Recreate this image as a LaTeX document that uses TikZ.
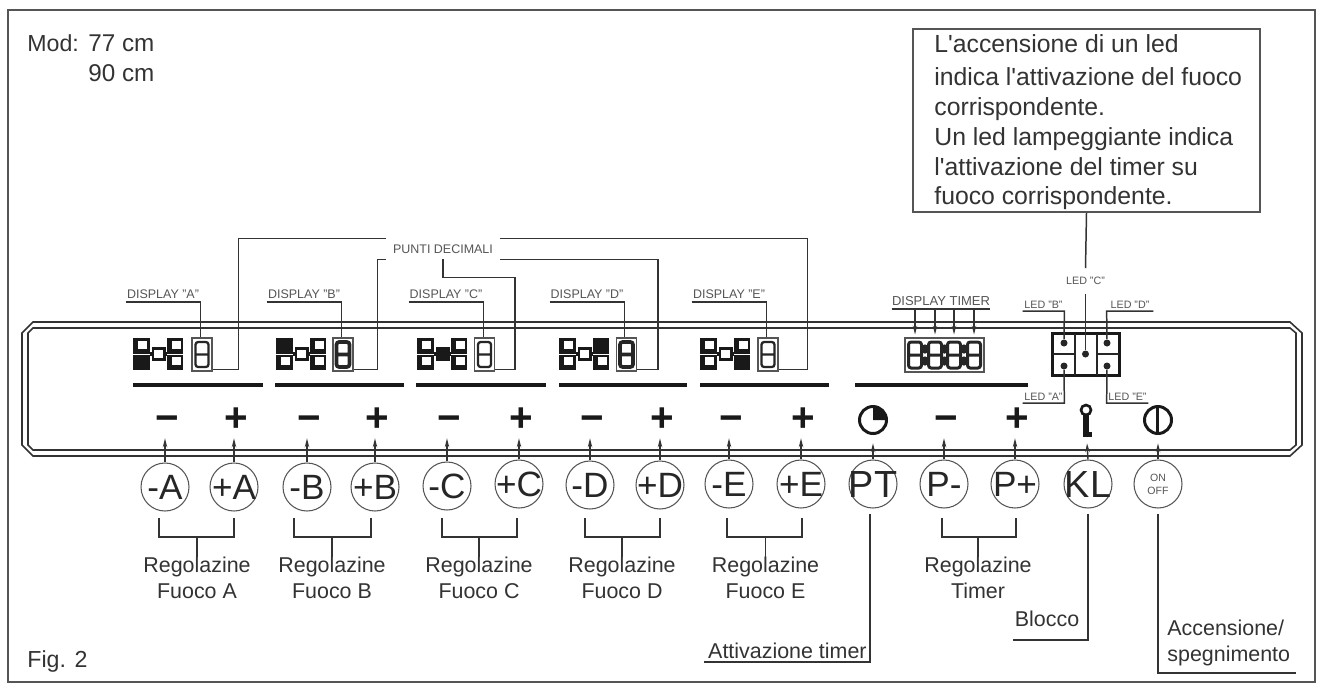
\documentclass[tikz,border=0pt]{standalone}
\usepackage{xcolor}
\usepackage{fontspec}
\setmainfont{Liberation Sans}
\newfontfamily\plainsans{Liberation Sans}
\usetikzlibrary{arrows.meta, positioning, calc}
\definecolor{frameink}{HTML}{555555}
\definecolor{wireink}{HTML}{333333}
\definecolor{textink}{HTML}{333333}
\tikzset{
    wire/.style={wireink, line width=0.85pt},
    tick/.style={wireink, line width=0.8pt, -{Stealth[length=5pt, width=2.5pt]}},
    keycirc/.style={circle, draw=frameink, line width=0.6pt, inner sep=0pt, minimum size=0.96cm},
    capt/.style={inner sep=0pt, text=textink, align=center, font=\fontsize{12.2}{14.8}\selectfont},
    tinylbl/.style={inner sep=0pt, inner ysep=1.5pt, text=frameink, font=\fontsize{7.1}{8}\selectfont},
    ledlbl/.style={inner sep=0pt, inner ysep=1.5pt, text=frameink, font=\fontsize{6.1}{7}\selectfont},
    leddot/.style={circle, fill=black!85, inner sep=0pt, minimum size=0.14cm},
}
\begin{document}
\begin{tikzpicture}[x=0.02cm, y=-0.02cm]
    \useasboundingbox (0,0) rectangle (1318,684);
    \fill[white] (0,0) rectangle (1318,684);
    \draw[frameink, line width=1.2pt] (8,10) rectangle (1315,682);

    \node[capt, anchor=west, font=\fontsize{13.2}{15}\selectfont] (modtxt) at (27,43) {Mod:};
    \node[capt, anchor=west, font=\fontsize{13.8}{17}\selectfont, align=left] (modcm) at (88,58) {77 cm\\90 cm};
    \node[capt, anchor=west, font=\fontsize{13.2}{15}\selectfont] (figtxt) at (27,661) {Fig. 2};

    % panel outline
    \draw[wireink, line width=0.9pt]
        (33,322) -- (1290,322) -- (1302,333) -- (1302,445) -- (1290,456) -- (33,456) -- (22,445) -- (22,333) -- cycle;
    \draw[wireink, line width=0.9pt]
        (33,328) -- (1290,328) -- (1296,333) -- (1296,445) -- (1290,450) -- (33,450) -- (28,445) -- (28,333) -- cycle;

    \node[draw=frameink, line width=0.9pt, minimum width=6.94cm, minimum height=3.66cm, inner sep=0pt] (note) at (1086.5,120.5) {};
    \node[inner sep=0pt, anchor=west, align=left, text=textink, font=\plainsans\fontsize{14.1}{17}\selectfont] (notetxt) at (934,122.5)
        {L'accensione di un led\\[1.5pt] indica l'attivazione del fuoco\\ corrispondente.\\ Un led lampeggiante indica\\ l'attivazione del timer su\\ fuoco corrispondente.};

    \node[inner sep=0pt, minimum width=2.28cm, minimum height=0.4cm, text=frameink, font=\fontsize{7.1}{8}\selectfont] (punti) at (443,249) {PUNTI DECIMALI};

    % displays
    \foreach \nm/\ox/\sx/\lx/\fullc/\sw in {A/133/202/163/2/1.3, B/276/343/304/1/2.1, C/417/484.5/446/5/1.3, D/559/626.5/587/3/2.1, E/700/768/729/4/1.3} {
        \fill[black!90] (\ox,338) rectangle +(17,32);
        \fill[black!90] (\ox+34,338) rectangle +(16,32);
        \fill[black!90] (\ox+19,347) rectangle +(14,14);
        \fill[black!90] (\ox+16,352) rectangle +(19,4);
        \foreach \i/\wx/\wy in {1/5/3, 2/5/19, 3/39/3, 4/39/19, 5/21/12} {
            \ifnum\i=\fullc\else \fill[white] (\ox+\wx,338+\wy) rectangle +(9,8); \fi
        }
        \draw[white, line width=0.3pt] (\ox,354) -- +(17,0) (\ox+34,354) -- +(16,0);
        \node[draw=frameink, line width=0.6pt, minimum width=0.4cm, minimum height=0.66cm, inner sep=0pt] (seg\nm) at (\sx,354.5) {};
        \draw[black!85, line width=\sw pt, rounded corners=1.5pt] (\sx-6.5,342) rectangle (\sx+6.5,367) (\sx-6.5,354.5) -- (\sx+6.5,354.5);
        \node[tinylbl, anchor=south, minimum width=1.48cm] (lbl\nm) at (\lx,302) {DISPLAY "\nm"};
        \draw[wire] (lbl\nm.south west) -- (lbl\nm.south east) -- (lbl\nm.south east |- seg\nm.north);
    }

    \draw[wire] (punti.north west) -| ($(segA.south east)+(26,-2)$) -- ($(segA.south east)+(0,-2)$);
    \draw[wire] (punti.south west) -| ($(segB.south east)+(24,-2)$) -- ($(segB.south east)+(0,-2)$);
    \draw[wire] (punti.south) |- ($(segC.south east)+(20,-94)$) -- ($(segC.south east)+(20,-2)$) -- ($(segC.south east)+(0,-2)$);
    \draw[wire] (punti.south east) -| ($(segD.south east)+(21,-2)$) -- ($(segD.south east)+(0,-2)$);
    \draw[wire] (punti.north east) -| ($(segE.south east)+(29,-2)$) -- ($(segE.south east)+(0,-2)$);

    \foreach \xa/\xb in {133/263, 275/404, 416/546, 559/687, 700/829, 855/1028} {
        \draw[black!90, line width=2.8pt] (\xa,385) -- (\xb,385);
    }

    % timer display
    \node[draw=frameink, line width=0.6pt, minimum width=1.58cm, minimum height=0.68cm, inner sep=0pt] (timerbox) at (944.5,355) {};
    \node[tinylbl, anchor=south, minimum width=1.96cm, font=\fontsize{7.4}{8}\selectfont] (lbltimer) at (941,309) {DISPLAY TIMER};
    \draw[wire] (lbltimer.south west) -- (lbltimer.south east);
    \foreach \dx in {915, 935, 954, 974} {
        \draw[black!85, line width=1.7pt, rounded corners=1.5pt] (\dx-6.5,342) rectangle (\dx+6.5,368) (\dx-6.5,355) -- (\dx+6.5,355);
        \draw[tick] (\dx,0 |- lbltimer.south) -- ($(\dx,0 |- timerbox.north)+(0,-3)$);
    }
    \foreach \dx in {925, 944.5, 964} {
        \fill[black!85] (\dx,349) circle[radius=4.6] (\dx,361) circle[radius=4.6];
    }

    % led block
    \node[draw=black!90, line width=1.9pt, minimum width=1.34cm, minimum height=0.84cm, inner sep=0pt] (ledbox) at (1086,354.5) {};
    \draw[black!85, line width=0.9pt] (1075,334) -- (1075,375) (1097,334) -- (1097,375) (1053,354) -- (1075,354) (1097,354) -- (1119,354);
    \node[leddot] (ledB) at (1064,343) {};
    \node[leddot] (ledA) at (1064,366) {};
    \node[leddot] (ledC) at (1085.5,354) {};
    \node[leddot] (ledD) at (1107,343) {};
    \node[leddot] (ledE) at (1107,366) {};
    \node[ledlbl, minimum height=0.5cm] (lblledC) at (1085.5,281) {LED "C"};
    \node[ledlbl, anchor=south, minimum width=0.82cm] (lblledB) at (1043.5,311) {LED "B"};
    \node[ledlbl, anchor=south, minimum width=0.92cm] (lblledD) at (1130,311) {LED "D"};
    \node[ledlbl, anchor=south, minimum width=0.82cm] (lblledA) at (1043.5,403) {LED "A"};
    \node[ledlbl, anchor=south, minimum width=0.82cm] (lblledE) at (1127.5,403) {LED "E"};
    \draw[wire] (note.south) -- (lblledC.north);
    \draw[wire] (lblledC.south) -- (ledC);
    \draw[wire] (lblledB.south west) -- (lblledB.south east) -- (ledB);
    \draw[wire] (lblledD.south east) -- (lblledD.south west) -- (ledD);
    \draw[wire] (lblledA.south west) -- (lblledA.south east) -- (ledA);
    \draw[wire] (lblledE.south east) -- (lblledE.south west) -- (ledE);

    % keys and their panel marks
    \foreach \nm/\kx/\ky/\sym/\kt in {mA/165/487/{−}/-A, pA/234/487/+/+A, mB/307/487/{−}/-B, pB/375/487/+/+B, mC/447/486/{−}/-C, pC/519/484/+/+C, mD/590/485/{−}/-D, pD/660/485/+/+D, mE/729/484/{−}/-E, pE/801/484/+/+E, mP/944/484/{−}/P-, pP/1015/484/+/P+} {
        \node[keycirc, label={[font=\fontsize{20}{22}\selectfont, text=black!85, inner sep=0pt]center:\kt}] (k\nm) at (\kx,\ky) {};
        \node[inner sep=0pt, minimum height=0.72cm, text=black!90, font=\fontsize{23}{25}\selectfont\bfseries] (s\nm) at (\kx+2,420) {\vphantom{+}\sym};
        \draw[tick] (k\nm.north) -- (k\nm.north |- s\nm.south);
    }
    \foreach \nm/\kx/\kt/\fs in {PT/873/PT/21.5, KL/1088/KL/21.5} {
        \node[keycirc, label={[font=\fontsize{\fs}{23}\selectfont, text=black!85, inner sep=0pt]center:\kt}] (k\nm) at (\kx,484) {};
    }
    \node[keycirc, label={[font=\fontsize{6}{7.5}\selectfont, text=frameink, inner sep=0pt, align=center]center:ON\\OFF}] (kON) at (1158,484) {};
    \node[inner sep=0pt, minimum height=0.92cm, minimum width=0.5cm] (sPT) at (873,420) {};
    \node[inner sep=0pt, minimum height=0.92cm, minimum width=0.2cm] (sKL) at (1087,420) {};
    \node[inner sep=0pt, minimum height=0.92cm, minimum width=0.5cm] (sON) at (1158,420) {};
    \foreach \nm in {PT, KL, ON} {
        \draw[tick] (k\nm.north) -- (s\nm.south);
    }
    \draw[black!90, line width=1.7pt] (sPT.center) circle[radius=13.5];
    \fill[black!90] (sPT.center) -- +(0,-14) arc[start angle=-90, end angle=0, radius=14] -- cycle;
    \draw[black!90, line width=1.5pt] (1086,410) circle[radius=5];
    \draw[black!90, line width=3pt] (1086,415) -- (1086,434.5) -- (1092,434.5);
    \draw[black!90, line width=1.7pt] (sON.center) circle[radius=13.5];
    \draw[black!90, line width=1.3pt] (1157.5,406) -- (1157.5,434);

    % brackets below the keys
    \foreach \nm/\xa/\xb/\xc/\txt in {A/159/234/197/Fuoco A, B/294/371/332/Fuoco B, C/442/517/479/Fuoco C, D/585/660/622/Fuoco D, E/727/802/765.5/Fuoco E, P/942/1016/978/Timer} {
        \node[capt] (reg\nm) at (\xc,578) {Regolazine\\ \txt};
        \coordinate (jn\nm) at (\xc,537);
        \draw[wire] (\xa,518) -- (\xa,537) -- (\xb,537) -- (\xb,518);
        \draw[wire] (jn\nm) -- (reg\nm.north);
    }

    \node[capt, anchor=south east] (lblattiv) at (867,659) {Attivazione timer};
    \node[capt, anchor=center] (lblblocco) at (1047,619) {Blocco};
    \node[capt, anchor=west, align=left] (lblacc) at (1167,643) {Accensione/\\ spegnimento};
    \coordinate (attivend) at (704,662);
    \coordinate (bloccoend) at (1013,640);
    \coordinate (accend) at (1296,673);
    \draw[wire] ($(kPT.south)+(-3,5)$) |- (attivend);
    \draw[wire] ($(kKL.south)+(0,5)$) |- (bloccoend);
    \draw[wire] ($(kON.south)+(0,5)$) |- (accend);
\end{tikzpicture}
\end{document}
